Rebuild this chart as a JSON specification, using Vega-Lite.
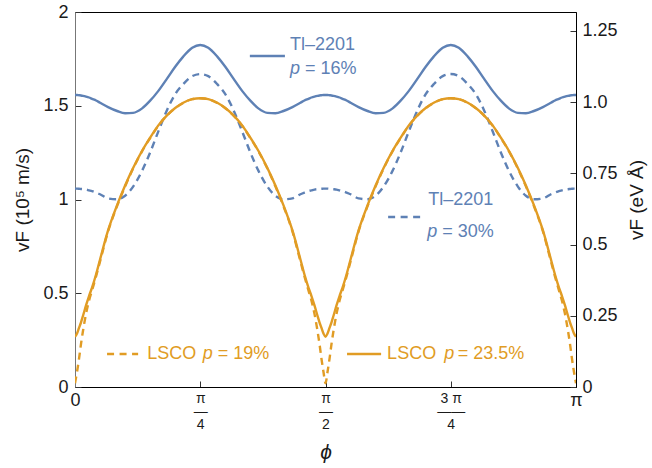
{
  "$schema": "https://vega.github.io/schema/vega-lite/v6.json",
  "width": 501,
  "height": 375,
  "autosize": {"type": "none"},
  "padding": {"left": 75, "top": 12, "right": 76, "bottom": 81},
  "background": "white",
  "config": {
    "view": {"stroke": "#000", "strokeWidth": 1},
    "font": "Liberation Sans",
    "text": {"font": "Liberation Sans"},
    "axis": {
      "grid": false,
      "labelFont": "Liberation Sans",
      "titleFont": "Liberation Sans",
      "labelColor": "#1a1a1a",
      "titleColor": "#1a1a1a",
      "tickColor": "#333",
      "tickWidth": 1,
      "domainColor": "#000",
      "labelFontSize": 18,
      "titleFontSize": 19,
      "titleFontWeight": "normal",
      "labelOverlap": false,
      "labelFlush": false,
      "labelBound": false
    }
  },
  "datasets": {
    "curves": [
      {"phi": 0, "tl16": 1.557, "tl30": 1.058, "lsco235": 0.268, "lsco19": 0.02},
      {"phi": 0.004, "tl16": 1.557, "tl30": 1.058, "lsco235": 0.285, "lsco19": 0.08},
      {"phi": 0.008, "tl16": 1.556, "tl30": 1.057, "lsco235": 0.315, "lsco19": 0.15},
      {"phi": 0.012, "tl16": 1.555, "tl30": 1.056, "lsco235": 0.345, "lsco19": 0.23},
      {"phi": 0.016, "tl16": 1.553, "tl30": 1.055, "lsco235": 0.38, "lsco19": 0.3},
      {"phi": 0.022, "tl16": 1.549, "tl30": 1.053, "lsco235": 0.435, "lsco19": 0.39},
      {"phi": 0.028, "tl16": 1.544, "tl30": 1.049, "lsco235": 0.485, "lsco19": 0.46},
      {"phi": 0.034, "tl16": 1.537, "tl30": 1.045, "lsco235": 0.53, "lsco19": 0.515},
      {"phi": 0.042, "tl16": 1.528, "tl30": 1.037, "lsco235": 0.6, "lsco19": 0.59},
      {"phi": 0.05, "tl16": 1.516, "tl30": 1.028, "lsco235": 0.68, "lsco19": 0.67},
      {"phi": 0.066, "tl16": 1.493, "tl30": 1.006, "lsco235": 0.835, "lsco19": 0.83},
      {"phi": 0.084, "tl16": 1.472, "tl30": 1.001, "lsco235": 0.97, "lsco19": 0.965},
      {"phi": 0.1, "tl16": 1.46, "tl30": 1.02, "lsco235": 1.075, "lsco19": 1.07},
      {"phi": 0.116, "tl16": 1.462, "tl30": 1.069, "lsco235": 1.168, "lsco19": 1.165},
      {"phi": 0.134, "tl16": 1.486, "tl30": 1.154, "lsco235": 1.26, "lsco19": 1.258},
      {"phi": 0.15, "tl16": 1.527, "tl30": 1.251, "lsco235": 1.33, "lsco19": 1.328},
      {"phi": 0.166, "tl16": 1.578, "tl30": 1.361, "lsco235": 1.394, "lsco19": 1.392},
      {"phi": 0.184, "tl16": 1.646, "tl30": 1.479, "lsco235": 1.45, "lsco19": 1.449},
      {"phi": 0.2, "tl16": 1.708, "tl30": 1.562, "lsco235": 1.488, "lsco19": 1.487},
      {"phi": 0.216, "tl16": 1.762, "tl30": 1.615, "lsco235": 1.516, "lsco19": 1.515},
      {"phi": 0.234, "tl16": 1.809, "tl30": 1.658, "lsco235": 1.535, "lsco19": 1.535},
      {"phi": 0.25, "tl16": 1.824, "tl30": 1.669, "lsco235": 1.54, "lsco19": 1.54},
      {"phi": 0.266, "tl16": 1.809, "tl30": 1.658, "lsco235": 1.535, "lsco19": 1.535},
      {"phi": 0.284, "tl16": 1.762, "tl30": 1.615, "lsco235": 1.516, "lsco19": 1.515},
      {"phi": 0.3, "tl16": 1.708, "tl30": 1.562, "lsco235": 1.488, "lsco19": 1.487},
      {"phi": 0.316, "tl16": 1.646, "tl30": 1.479, "lsco235": 1.45, "lsco19": 1.449},
      {"phi": 0.334, "tl16": 1.578, "tl30": 1.361, "lsco235": 1.394, "lsco19": 1.392},
      {"phi": 0.35, "tl16": 1.527, "tl30": 1.251, "lsco235": 1.33, "lsco19": 1.328},
      {"phi": 0.366, "tl16": 1.486, "tl30": 1.154, "lsco235": 1.26, "lsco19": 1.258},
      {"phi": 0.384, "tl16": 1.462, "tl30": 1.069, "lsco235": 1.168, "lsco19": 1.165},
      {"phi": 0.4, "tl16": 1.46, "tl30": 1.02, "lsco235": 1.075, "lsco19": 1.07},
      {"phi": 0.416, "tl16": 1.472, "tl30": 1.001, "lsco235": 0.97, "lsco19": 0.965},
      {"phi": 0.434, "tl16": 1.493, "tl30": 1.006, "lsco235": 0.835, "lsco19": 0.83},
      {"phi": 0.45, "tl16": 1.516, "tl30": 1.028, "lsco235": 0.68, "lsco19": 0.67},
      {"phi": 0.458, "tl16": 1.528, "tl30": 1.037, "lsco235": 0.6, "lsco19": 0.59},
      {"phi": 0.466, "tl16": 1.537, "tl30": 1.045, "lsco235": 0.53, "lsco19": 0.515},
      {"phi": 0.472, "tl16": 1.544, "tl30": 1.049, "lsco235": 0.485, "lsco19": 0.46},
      {"phi": 0.478, "tl16": 1.549, "tl30": 1.053, "lsco235": 0.435, "lsco19": 0.39},
      {"phi": 0.484, "tl16": 1.553, "tl30": 1.055, "lsco235": 0.38, "lsco19": 0.3},
      {"phi": 0.488, "tl16": 1.555, "tl30": 1.056, "lsco235": 0.345, "lsco19": 0.23},
      {"phi": 0.492, "tl16": 1.556, "tl30": 1.057, "lsco235": 0.315, "lsco19": 0.15},
      {"phi": 0.496, "tl16": 1.557, "tl30": 1.058, "lsco235": 0.285, "lsco19": 0.08},
      {"phi": 0.5, "tl16": 1.557, "tl30": 1.058, "lsco235": 0.268, "lsco19": 0.02},
      {"phi": 0.504, "tl16": 1.557, "tl30": 1.058, "lsco235": 0.285, "lsco19": 0.08},
      {"phi": 0.508, "tl16": 1.556, "tl30": 1.057, "lsco235": 0.315, "lsco19": 0.15},
      {"phi": 0.512, "tl16": 1.555, "tl30": 1.056, "lsco235": 0.345, "lsco19": 0.23},
      {"phi": 0.516, "tl16": 1.553, "tl30": 1.055, "lsco235": 0.38, "lsco19": 0.3},
      {"phi": 0.522, "tl16": 1.549, "tl30": 1.053, "lsco235": 0.435, "lsco19": 0.39},
      {"phi": 0.528, "tl16": 1.544, "tl30": 1.049, "lsco235": 0.485, "lsco19": 0.46},
      {"phi": 0.534, "tl16": 1.537, "tl30": 1.045, "lsco235": 0.53, "lsco19": 0.515},
      {"phi": 0.542, "tl16": 1.528, "tl30": 1.037, "lsco235": 0.6, "lsco19": 0.59},
      {"phi": 0.55, "tl16": 1.516, "tl30": 1.028, "lsco235": 0.68, "lsco19": 0.67},
      {"phi": 0.566, "tl16": 1.493, "tl30": 1.006, "lsco235": 0.835, "lsco19": 0.83},
      {"phi": 0.584, "tl16": 1.472, "tl30": 1.001, "lsco235": 0.97, "lsco19": 0.965},
      {"phi": 0.6, "tl16": 1.46, "tl30": 1.02, "lsco235": 1.075, "lsco19": 1.07},
      {"phi": 0.616, "tl16": 1.462, "tl30": 1.069, "lsco235": 1.168, "lsco19": 1.165},
      {"phi": 0.634, "tl16": 1.486, "tl30": 1.154, "lsco235": 1.26, "lsco19": 1.258},
      {"phi": 0.65, "tl16": 1.527, "tl30": 1.251, "lsco235": 1.33, "lsco19": 1.328},
      {"phi": 0.666, "tl16": 1.578, "tl30": 1.361, "lsco235": 1.394, "lsco19": 1.392},
      {"phi": 0.684, "tl16": 1.646, "tl30": 1.479, "lsco235": 1.45, "lsco19": 1.449},
      {"phi": 0.7, "tl16": 1.708, "tl30": 1.562, "lsco235": 1.488, "lsco19": 1.487},
      {"phi": 0.716, "tl16": 1.762, "tl30": 1.615, "lsco235": 1.516, "lsco19": 1.515},
      {"phi": 0.734, "tl16": 1.809, "tl30": 1.658, "lsco235": 1.535, "lsco19": 1.535},
      {"phi": 0.75, "tl16": 1.824, "tl30": 1.669, "lsco235": 1.54, "lsco19": 1.54},
      {"phi": 0.766, "tl16": 1.809, "tl30": 1.658, "lsco235": 1.535, "lsco19": 1.535},
      {"phi": 0.784, "tl16": 1.762, "tl30": 1.615, "lsco235": 1.516, "lsco19": 1.515},
      {"phi": 0.8, "tl16": 1.708, "tl30": 1.562, "lsco235": 1.488, "lsco19": 1.487},
      {"phi": 0.816, "tl16": 1.646, "tl30": 1.479, "lsco235": 1.45, "lsco19": 1.449},
      {"phi": 0.834, "tl16": 1.578, "tl30": 1.361, "lsco235": 1.394, "lsco19": 1.392},
      {"phi": 0.85, "tl16": 1.527, "tl30": 1.251, "lsco235": 1.33, "lsco19": 1.328},
      {"phi": 0.866, "tl16": 1.486, "tl30": 1.154, "lsco235": 1.26, "lsco19": 1.258},
      {"phi": 0.884, "tl16": 1.462, "tl30": 1.069, "lsco235": 1.168, "lsco19": 1.165},
      {"phi": 0.9, "tl16": 1.46, "tl30": 1.02, "lsco235": 1.075, "lsco19": 1.07},
      {"phi": 0.916, "tl16": 1.472, "tl30": 1.001, "lsco235": 0.97, "lsco19": 0.965},
      {"phi": 0.934, "tl16": 1.493, "tl30": 1.006, "lsco235": 0.835, "lsco19": 0.83},
      {"phi": 0.95, "tl16": 1.516, "tl30": 1.028, "lsco235": 0.68, "lsco19": 0.67},
      {"phi": 0.958, "tl16": 1.528, "tl30": 1.037, "lsco235": 0.6, "lsco19": 0.59},
      {"phi": 0.966, "tl16": 1.537, "tl30": 1.045, "lsco235": 0.53, "lsco19": 0.515},
      {"phi": 0.972, "tl16": 1.544, "tl30": 1.049, "lsco235": 0.485, "lsco19": 0.46},
      {"phi": 0.978, "tl16": 1.549, "tl30": 1.053, "lsco235": 0.435, "lsco19": 0.39},
      {"phi": 0.984, "tl16": 1.553, "tl30": 1.055, "lsco235": 0.38, "lsco19": 0.3},
      {"phi": 0.988, "tl16": 1.555, "tl30": 1.056, "lsco235": 0.345, "lsco19": 0.23},
      {"phi": 0.992, "tl16": 1.556, "tl30": 1.057, "lsco235": 0.315, "lsco19": 0.15},
      {"phi": 0.996, "tl16": 1.557, "tl30": 1.058, "lsco235": 0.285, "lsco19": 0.08},
      {"phi": 1, "tl16": 1.557, "tl30": 1.058, "lsco235": 0.268, "lsco19": 0.02}
    ],
    "keys": [
      {"series": "tl16", "x1": 0.349, "x2": 0.419, "y": 1.765},
      {"series": "tl30", "x1": 0.625, "x2": 0.689, "y": 0.907},
      {"series": "lsco19", "x1": 0.064, "x2": 0.126, "y": 0.176},
      {"series": "lsco235", "x1": 0.543, "x2": 0.611, "y": 0.176}
    ],
    "names": [
      {"series": "tl16", "x": 0.429, "y": 1.824, "text": "Tl–2201"},
      {"series": "tl16", "x": 0.459, "y": 1.696, "text": "= 16%"},
      {"series": "tl30", "x": 0.705, "y": 0.997, "text": "Tl–2201"},
      {"series": "tl30", "x": 0.733, "y": 0.827, "text": "= 30%"},
      {"series": "lsco19", "x": 0.144, "y": 0.176, "text": "LSCO"},
      {"series": "lsco19", "x": 0.285, "y": 0.176, "text": "= 19%"},
      {"series": "lsco235", "x": 0.623, "y": 0.176, "text": "LSCO"},
      {"series": "lsco235", "x": 0.764, "y": 0.176, "text": "= 23.5%"}
    ],
    "pvars": [
      {"series": "tl16", "x": 0.429, "y": 1.696, "text": "p"},
      {"series": "tl30", "x": 0.703, "y": 0.827, "text": "p"},
      {"series": "lsco19", "x": 0.255, "y": 0.176, "text": "p"},
      {"series": "lsco235", "x": 0.737, "y": 0.176, "text": "p"}
    ]
  },
  "layer": [
    {
      "layer": [
        {
          "data": {"name": "curves"},
          "transform": [{"fold": ["tl30", "lsco19"], "as": ["series", "v"]}],
          "mark": {"type": "line", "interpolate": "monotone", "strokeWidth": 2.4, "strokeDash": [7, 5], "clip": true},
          "encoding": {
            "x": {
              "field": "phi", "type": "quantitative",
              "scale": {"domain": [0, 1], "nice": false},
              "axis": {
                "values": [0, 0.25, 0.5, 0.75, 1],
                "labelExpr": "datum.value == 0 ? '0' : datum.value == 1 ? 'π' : datum.value == 0.25 ? ['π', '—', '4'] : datum.value == 0.5 ? ['π', '—', '2'] : ['3 π', '——', '4']",
                "labelFontSize": {"condition": {"test": "datum.value == 0 || datum.value == 1", "value": 18}, "value": 14},
                "labelLineHeight": 13,
                "labelPadding": 10,
                "tickSize": -6,
                "title": "ϕ",
                "titleFontStyle": "italic",
                "titleFontSize": 21,
                "titlePadding": 10
              }
            },
            "y": {
              "field": "v", "type": "quantitative",
              "scale": {"domain": [0, 2], "nice": false},
              "axis": {
                "values": [0, 0.5, 1, 1.5, 2],
                "format": "~g",
                "tickSize": -6,
                "labelPadding": 13,
                "domainColor": "#777",
                "title": "vF (10⁵ m/s)",
                "titlePadding": 10
              }
            },
            "color": {
              "field": "series", "type": "nominal",
              "scale": {"domain": ["tl16", "tl30", "lsco235", "lsco19"], "range": ["#5E81B5", "#5E81B5", "#E19C24", "#E19C24"]},
              "legend": null
            }
          }
        },
        {
          "data": {"name": "curves"},
          "transform": [{"fold": ["tl16", "lsco235"], "as": ["series", "v"]}],
          "mark": {"type": "line", "interpolate": "monotone", "strokeWidth": 2.4, "clip": true},
          "encoding": {
            "x": {"field": "phi", "type": "quantitative"},
            "y": {"field": "v", "type": "quantitative"},
            "color": {"field": "series", "type": "nominal", "legend": null}
          }
        },
        {
          "data": {"name": "keys"},
          "mark": {"type": "rule", "strokeWidth": 2.4},
          "encoding": {
            "x": {"field": "x1", "type": "quantitative"},
            "x2": {"field": "x2"},
            "y": {"field": "y", "type": "quantitative"},
            "color": {"field": "series", "type": "nominal", "legend": null},
            "strokeDash": {
              "field": "series", "type": "nominal",
              "scale": {"domain": ["tl16", "tl30", "lsco235", "lsco19"], "range": [[1, 0], [7, 5.5], [1, 0], [7, 5.5]]},
              "legend": null
            }
          }
        },
        {
          "data": {"name": "names"},
          "mark": {"type": "text", "align": "left", "baseline": "middle", "fontSize": 18, "font": "Liberation Sans"},
          "encoding": {
            "x": {"field": "x", "type": "quantitative"},
            "y": {"field": "y", "type": "quantitative"},
            "text": {"field": "text"},
            "color": {"field": "series", "type": "nominal", "legend": null}
          }
        },
        {
          "data": {"name": "pvars"},
          "mark": {"type": "text", "align": "left", "baseline": "middle", "fontSize": 18, "fontStyle": "italic", "font": "Liberation Sans"},
          "encoding": {
            "x": {"field": "x", "type": "quantitative"},
            "y": {"field": "y", "type": "quantitative"},
            "text": {"field": "text"},
            "color": {"field": "series", "type": "nominal", "legend": null}
          }
        }
      ]
    },
    {
      "data": {"name": "curves"},
      "mark": {"type": "point", "opacity": 0},
      "encoding": {
        "x": {"field": "phi", "type": "quantitative"},
        "y": {
          "field": "tl16", "type": "quantitative",
          "scale": {"domain": [0, 1.3164], "nice": false},
          "axis": {
            "orient": "right",
            "values": [0, 0.25, 0.5, 0.75, 1, 1.25],
            "labelExpr": "datum.value == 1 ? '1.0' : format(datum.value, '~g')",
            "tickSize": -6,
            "labelPadding": 12,
            "title": "vF (eV Å)",
            "titleAngle": 270,
            "titleBaseline": "top",
            "titlePadding": 10
          }
        }
      }
    }
  ],
  "resolve": {"scale": {"y": "independent"}}
}
